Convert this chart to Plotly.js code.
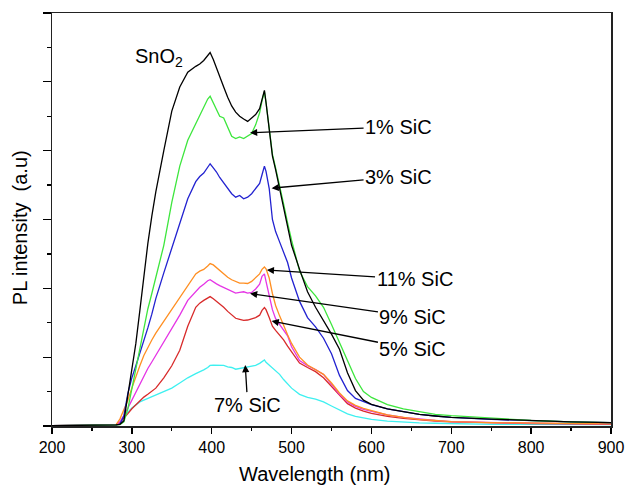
<!DOCTYPE html>
<html>
<head>
<meta charset="utf-8">
<script src="https://cdn.plot.ly/plotly-3.0.1.min.js"></script>
<style>html,body{margin:0;padding:0;background:#fff;}#chart{width:627px;height:486px;}</style>
</head>
<body>
<div id="chart"></div>
<script>
// Wavelength grid (nm)
const wavelength = [200,250,275,280,285,290,295,300,305,310,315,320,325,330,340,350,360,370,380,385,390,395,398,402,406,410,415,420,425,430,435,440,445,450,455,460,463,466,468,472,476,480,485,490,495,500,510,520,530,540,550,560,570,580,590,600,620,640,660,680,700,750,800,850,900];

// PL intensity (a.u.)
const snO2 = [0.01,0.01,0.01,0.03,0.05,0.15,0.9,1.65,2.4,3.35,4.4,5.3,6.1,6.8,8.0,9.15,9.85,10.28,10.45,10.52,10.62,10.75,10.85,10.65,10.42,10.15,9.85,9.55,9.3,9.12,9.0,8.92,8.85,8.95,9.05,9.22,9.45,9.75,9.4,8.7,7.85,7.45,6.9,6.35,5.75,5.25,4.55,3.9,3.45,3.07,2.67,2.23,1.55,1.03,0.75,0.63,0.5,0.42,0.34,0.29,0.25,0.2,0.15,0.12,0.1];
const sic1 = [0.01,0.01,0.01,0.03,0.04,0.12,0.5,1.1,1.7,2.3,2.85,3.4,3.85,4.3,5.25,6.5,7.55,8.3,8.8,9.05,9.3,9.5,9.58,9.38,9.15,9.0,8.95,8.7,8.42,8.35,8.4,8.35,8.42,8.5,8.75,9.1,9.45,9.72,9.4,8.65,7.9,7.5,7.0,6.45,5.9,5.4,4.5,4.05,3.78,3.45,2.95,2.45,1.9,1.38,1.0,0.83,0.62,0.5,0.41,0.34,0.3,0.22,0.16,0.12,0.1];
const sic3 = [0.01,0.01,0.01,0.03,0.05,0.3,0.95,1.4,1.75,2.1,2.45,2.85,3.25,3.7,4.45,5.15,5.85,6.6,7.1,7.25,7.35,7.5,7.62,7.5,7.38,7.22,7.07,6.9,6.75,6.65,6.7,6.6,6.65,6.75,6.9,7.05,7.3,7.55,7.4,6.9,6.0,5.65,5.35,5.05,4.75,4.3,3.62,3.15,2.88,2.55,2.1,1.47,1.03,0.8,0.7,0.62,0.5,0.41,0.34,0.29,0.25,0.19,0.15,0.12,0.1];
const sic5 = [0.01,0.01,0.01,0.02,0.1,0.22,0.36,0.5,0.62,0.75,0.84,0.92,1.0,1.1,1.4,1.75,2.2,2.9,3.45,3.57,3.65,3.72,3.76,3.7,3.63,3.55,3.45,3.33,3.22,3.13,3.1,3.07,3.08,3.12,3.15,3.22,3.36,3.44,3.38,3.15,2.9,2.78,2.65,2.5,2.32,2.15,1.83,1.7,1.58,1.4,1.14,0.88,0.65,0.52,0.43,0.37,0.28,0.22,0.17,0.14,0.12,0.09,0.07,0.06,0.05];
const sic7 = [0.01,0.01,0.01,0.02,0.09,0.25,0.4,0.52,0.62,0.7,0.75,0.8,0.84,0.88,0.99,1.1,1.25,1.4,1.52,1.57,1.63,1.7,1.76,1.77,1.77,1.77,1.76,1.72,1.7,1.65,1.67,1.68,1.7,1.73,1.76,1.82,1.86,1.92,1.85,1.77,1.7,1.62,1.5,1.35,1.22,1.1,0.92,0.83,0.78,0.7,0.58,0.46,0.35,0.28,0.23,0.19,0.14,0.11,0.09,0.08,0.07,0.05,0.05,0.04,0.04];
const sic9 = [0.01,0.01,0.01,0.03,0.12,0.3,0.52,0.75,1.0,1.25,1.47,1.67,1.86,2.05,2.42,2.82,3.22,3.65,3.92,4.03,4.12,4.22,4.25,4.18,4.13,4.08,4.03,3.98,3.92,3.86,3.88,3.9,3.86,3.88,3.98,4.12,4.35,4.42,4.2,3.75,3.38,3.12,2.95,2.8,2.62,2.3,1.9,1.75,1.64,1.5,1.22,0.92,0.7,0.57,0.48,0.42,0.32,0.25,0.2,0.16,0.13,0.1,0.08,0.07,0.06];
const sic11 = [0.01,0.01,0.01,0.03,0.2,0.45,0.75,1.1,1.45,1.75,2.05,2.3,2.5,2.7,3.05,3.4,3.72,4.1,4.42,4.5,4.55,4.65,4.72,4.68,4.6,4.52,4.42,4.32,4.25,4.2,4.15,4.15,4.14,4.2,4.3,4.42,4.55,4.62,4.57,4.3,3.85,3.5,3.2,2.9,2.65,2.4,2.0,1.77,1.64,1.5,1.25,0.96,0.73,0.6,0.51,0.44,0.32,0.25,0.19,0.16,0.13,0.1,0.08,0.07,0.06];

const seriesNames = ["7% SiC","5% SiC","9% SiC","11% SiC","3% SiC","1% SiC","SnO2"];
const seriesValues = [sic7, sic5, sic9, sic11, sic3, sic1, snO2];
const seriesColors = ["#3ef0f0","#d82a2a","#e535e5","#ff8f22","#2222d0","#3de63d","#000000"];

// Label text, label position (x, y) and arrow target (x, y) in data units
const labelTexts = ["SnO<sub>2</sub>","1% SiC","3% SiC","11% SiC","9% SiC","5% SiC","7% SiC"];
const labelX = [334, 634, 634, 654, 652, 652, 445];
const labelY = [10.72, 8.70, 7.24, 4.26, 3.17, 2.23, 0.62];
const targetX = [null, 448, 475, 469, 448, 475, 442];
const targetY = [null, 8.52, 6.91, 4.53, 3.85, 3.05, 1.77];

// Axis titles
const xTitle = "Wavelength (nm)";
const yTitle = "PL intensity  (a.u)";

const FONT = "Liberation Sans, Arial, Helvetica, sans-serif";

const traces = seriesValues.map((v, i) => ({
  x: wavelength, y: v, type: "scatter", mode: "lines", name: seriesNames[i],
  line: {color: seriesColors[i], width: 1.3}, hoverinfo: "skip"
}));

const annotations = labelTexts.map((t, i) => {
  if (targetX[i] === null) {
    return {x: labelX[i], y: labelY[i], xref: "x", yref: "y", text: t, showarrow: false,
            font: {family: FONT, size: 20, color: "#000"}};
  }
  return {x: targetX[i], y: targetY[i], xref: "x", yref: "y", ax: labelX[i], ay: labelY[i],
          axref: "x", ayref: "y", text: t, showarrow: true, arrowhead: 2, arrowsize: 1.1,
          arrowwidth: 1.3, arrowcolor: "#000", standoff: 0,
          font: {family: FONT, size: 20, color: "#000"}};
});

// axis titles placed as in the reference (slightly off-centre)
annotations.push({xref: "paper", yref: "paper", x: 0.47, y: 0, yshift: -48, xanchor: "center", yanchor: "middle",
  text: xTitle, showarrow: false, font: {family: FONT, size: 20, color: "#000"}});
annotations.push({xref: "paper", yref: "paper", x: 0, y: 0.479, xshift: -32, xanchor: "center", yanchor: "middle",
  textangle: -90, text: yTitle, showarrow: false, font: {family: FONT, size: 20, color: "#000"}});

const layout = {
  width: 627, height: 486,
  margin: {l: 52, r: 16, t: 13, b: 60},
  paper_bgcolor: "#fff", plot_bgcolor: "#fff",
  showlegend: false,
  font: {family: FONT, size: 16, color: "#000"},
  xaxis: {
    range: [200, 900], dtick: 100, tick0: 200, ticks: "outside", ticklen: 6, tickwidth: 1.3,
    tickcolor: "#000", minor: {dtick: 50, ticks: "outside", ticklen: 3, tickwidth: 1.3, tickcolor: "#000"},
    showline: true, linewidth: 1.5, linecolor: "#222", mirror: true,
    showgrid: false, zeroline: false, tickfont: {family: FONT, size: 16, color: "#000"}
  },
  yaxis: {
    range: [0, 12], dtick: 2, tick0: 0, ticks: "outside", ticklen: 8, tickwidth: 1.3,
    tickcolor: "#000", minor: {dtick: 1, ticks: "outside", ticklen: 4, tickwidth: 1.3, tickcolor: "#000"},
    showticklabels: false, showline: true, linewidth: 1.5, linecolor: "#222", mirror: true,
    showgrid: false, zeroline: false
  },
  annotations: annotations
};

Plotly.newPlot("chart", traces, layout, {staticPlot: true, displayModeBar: false});
</script>
</body>
</html>
